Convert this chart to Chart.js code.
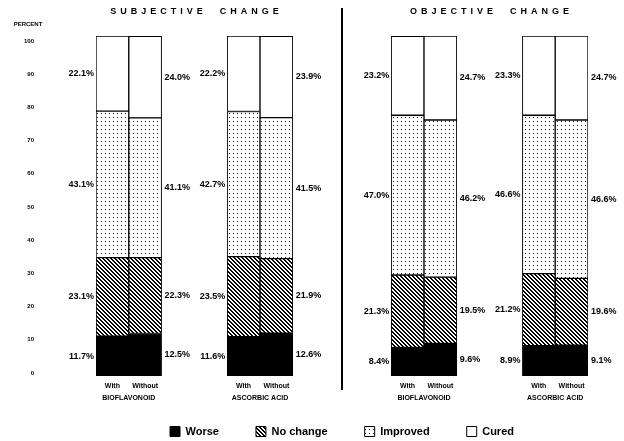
<!DOCTYPE html>
<html>
<head>
<meta charset="utf-8">
<title>Subjective and objective change</title>
<script src="https://cdn.jsdelivr.net/npm/chart.js@4.4.1/dist/chart.umd.min.js"></script>
<style>
  html, body { margin: 0; padding: 0; background: #fff; }
  canvas { display: block; }
</style>
</head>
<body>
<canvas id="changeChart" width="624" height="441"></canvas>
<script>
"use strict";

const panelTitles = ["SUBJECTIVE  CHANGE", "OBJECTIVE  CHANGE"];
const groupLabels = ["BIOFLAVONOID", "ASCORBIC ACID", "BIOFLAVONOID", "ASCORBIC ACID"];
const barLabels = ["With", "Without", "With", "Without", "With", "Without", "With", "Without"];
const seriesNames = ["Worse", "No change", "Improved", "Cured"];

const worse = [11.7, 12.5, 11.6, 12.6, 8.4, 9.6, 8.9, 9.1];
const noChange = [23.1, 22.3, 23.5, 21.9, 21.3, 19.5, 21.2, 19.6];
const improved = [43.1, 41.1, 42.7, 41.5, 47.0, 46.2, 46.6, 46.6];
const cured = [22.1, 24.0, 22.2, 23.9, 23.2, 24.7, 23.3, 24.7];

const yTicks = [0, 10, 20, 30, 40, 50, 60, 70, 80, 90, 100];
const yAxisTitle = "PERCENT";

// bars sit in pairs on a 15 slot category axis, the empty slots make the gaps
const SLOTS = [0, 1, 4, 5, 9, 10, 13, 14];
const SLOT_COUNT = 15;
const FONT = "'Liberation Sans', Arial, sans-serif";

function spread(values, empty) {
  const out = new Array(SLOT_COUNT).fill(empty);
  SLOTS.forEach((slot, i) => { out[slot] = values[i]; });
  return out;
}

function makePattern(draw) {
  const tile = document.createElement("canvas");
  tile.width = 4;
  tile.height = 4;
  const c = tile.getContext("2d");
  c.fillStyle = "#fff";
  c.fillRect(0, 0, 4, 4);
  draw(c);
  return c.createPattern(tile, "repeat");
}

const hatch = makePattern(c => {
  c.fillStyle = "#000";
  for (let i = 0; i < 4; i++) {
    c.fillRect(i, i, 1, 1);
    c.fillRect((i + 1) % 4, i, 1, 1);
  }
});

const dots = makePattern(c => {
  c.fillStyle = "#111";
  c.fillRect(1, 1, 1, 1);
});

const fills = ["#000", hatch, dots, "#fff"];
const seriesValues = [worse, noChange, improved, cured];

const decorPlugin = {
  id: "decor",
  afterDatasetsDraw(chart) {
    const { ctx, chartArea, scales: { x } } = chart;
    ctx.save();
    ctx.fillStyle = "#000";

    // value labels beside each segment
    ctx.font = `bold 9px ${FONT}`;
    ctx.textBaseline = "middle";
    chart.data.datasets.forEach((ds, di) => {
      const meta = chart.getDatasetMeta(di);
      SLOTS.forEach((slot, i) => {
        const bar = meta.data[slot];
        const mid = (bar.y + bar.base) / 2;
        const onLeft = i % 2 === 0;
        ctx.textAlign = onLeft ? "right" : "left";
        const tx = onLeft ? bar.x - bar.width / 2 - 2 : bar.x + bar.width / 2 + 3;
        ctx.fillText(ds.data[slot].toFixed(1) + "%", tx, mid);
      });
    });

    // group names under each pair
    ctx.font = `bold 7px ${FONT}`;
    ctx.textAlign = "center";
    groupLabels.forEach((label, g) => {
      const cx = (x.getPixelForValue(SLOTS[2 * g]) + x.getPixelForValue(SLOTS[2 * g + 1])) / 2;
      ctx.fillText(label, cx, chartArea.bottom + 22);
    });

    // panel titles
    ctx.font = `bold 9px ${FONT}`;
    ctx.letterSpacing = "4px";
    panelTitles.forEach((title, p) => {
      const cx = (x.getPixelForValue(SLOTS[4 * p]) + x.getPixelForValue(SLOTS[4 * p + 3])) / 2;
      ctx.fillText(title, cx + 2, chartArea.top - 24);
    });
    ctx.letterSpacing = "0px";

    // axis caption
    ctx.font = `bold 6px ${FONT}`;
    ctx.fillText(yAxisTitle, chartArea.left - 68, chartArea.top - 12);

    // divider between the two panels
    const dx = (x.getPixelForValue(SLOTS[3]) + x.getPixelForValue(SLOTS[4])) / 2;
    ctx.strokeStyle = "#000";
    ctx.lineWidth = 2;
    ctx.beginPath();
    ctx.moveTo(dx, chartArea.top - 28);
    ctx.lineTo(dx, chartArea.bottom + 14);
    ctx.stroke();

    ctx.restore();
  }
};

Chart.defaults.font.family = FONT;
Chart.defaults.font.weight = "bold";
Chart.defaults.color = "#000";

new Chart(document.getElementById("changeChart"), {
  type: "bar",
  data: {
    labels: spread(barLabels, ""),
    datasets: seriesNames.map((name, i) => ({
      label: name,
      data: spread(seriesValues[i], null),
      backgroundColor: fills[i],
      borderColor: "#000",
      borderWidth: 1,
      borderSkipped: false,
      categoryPercentage: 1,
      barPercentage: 1
    }))
  },
  options: {
    responsive: false,
    animation: false,
    layout: {
      padding: { top: 36, right: 36, bottom: 0, left: 0 }
    },
    plugins: {
      legend: {
        position: "bottom",
        fullSize: false,
        maxHeight: 52,
        labels: {
          boxWidth: 10,
          boxHeight: 10,
          padding: 37,
          color: "#000",
          font: { size: 11, weight: "bold" }
        }
      },
      tooltip: { enabled: false }
    },
    scales: {
      x: {
        stacked: true,
        grid: { display: false, drawTicks: false },
        border: { display: false },
        afterFit: axis => { axis.height = 13; },
        ticks: {
          autoSkip: false,
          maxRotation: 0,
          padding: 6,
          font: { size: 7, weight: "bold" }
        }
      },
      // value axis for the bars; its ticks are hidden and it only keeps the gap
      y: {
        stacked: true,
        min: 0,
        max: 100,
        weight: 0,
        grid: { display: false, drawTicks: false },
        border: { display: false },
        ticks: { display: false },
        afterFit: axis => { axis.width = 62; }
      },
      // printed percent scale, set a little inside the bar range as on the original
      yLabels: {
        position: "left",
        weight: 1,
        min: -0.9,
        max: 101.5,
        grid: { display: false, drawTicks: false },
        border: { display: false },
        afterBuildTicks: axis => { axis.ticks = yTicks.map(value => ({ value })); },
        afterFit: axis => { axis.width = 34; },
        ticks: {
          padding: 0,
          font: { size: 6, weight: "bold" }
        }
      }
    }
  },
  plugins: [decorPlugin]
});
</script>
</body>
</html>
